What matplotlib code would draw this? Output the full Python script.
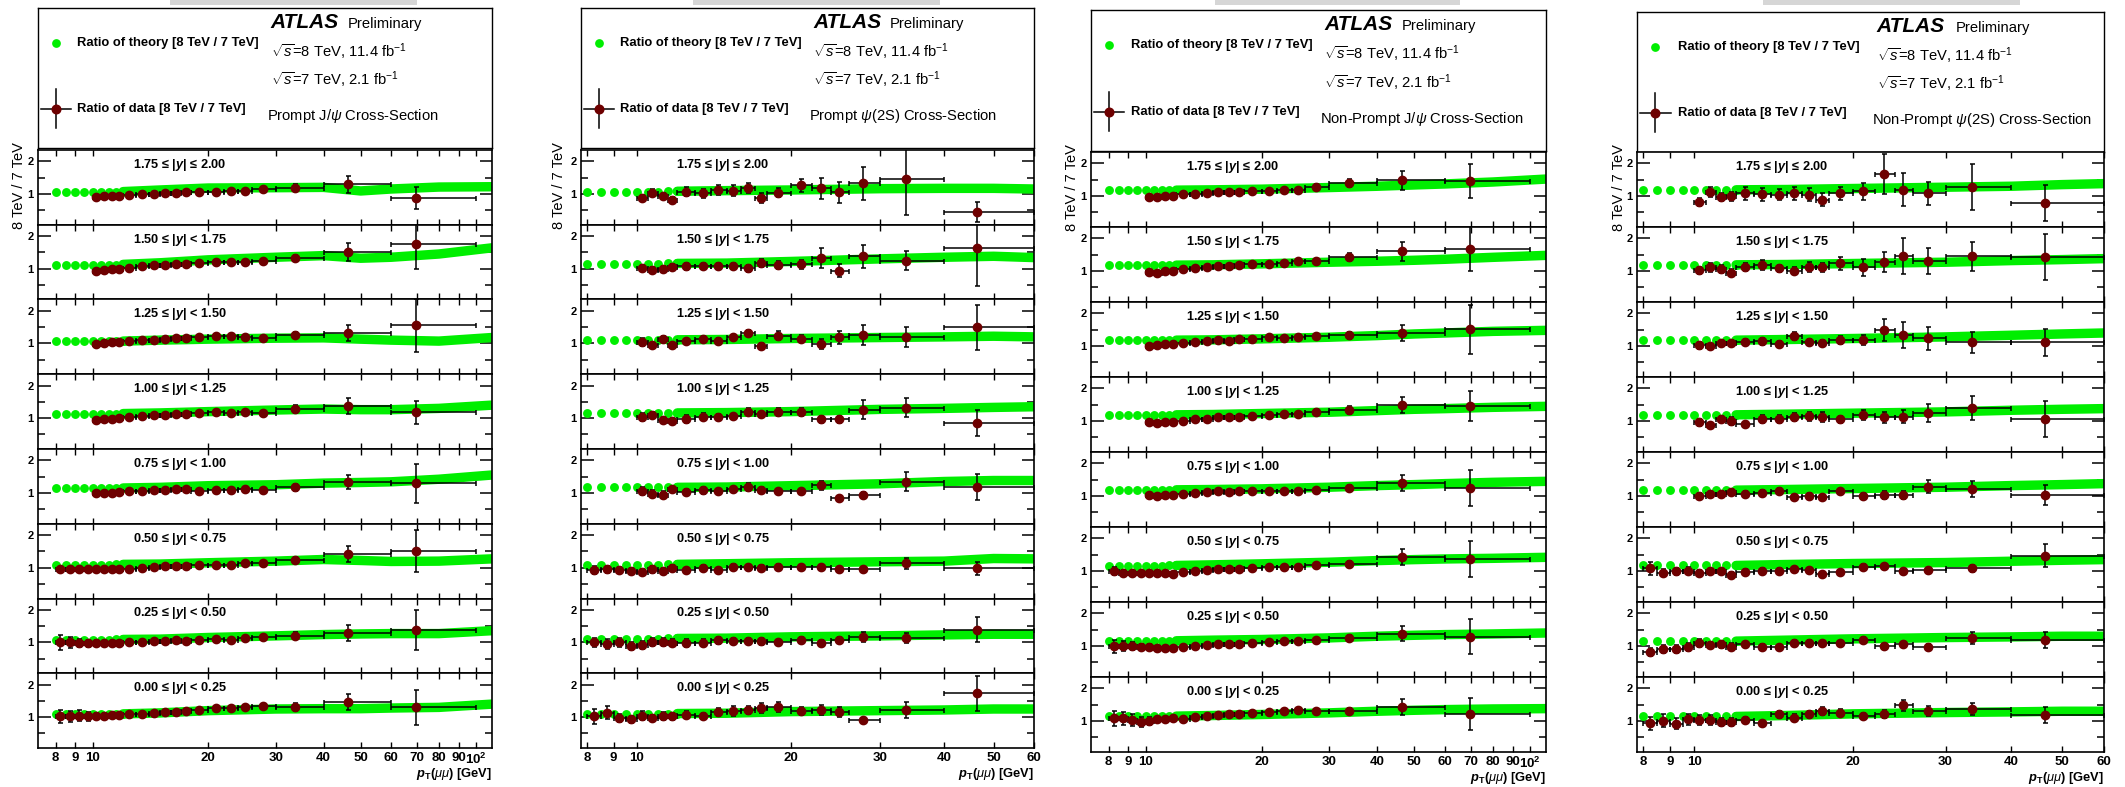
import matplotlib.pyplot as plt
from matplotlib.patches import Rectangle
from matplotlib.ticker import FixedLocator, NullLocator

plt.rcParams['font.family'] = 'Liberation Sans'
plt.rcParams['mathtext.fontset'] = 'custom'
plt.rcParams['mathtext.rm'] = 'Liberation Sans'
plt.rcParams['mathtext.it'] = 'Liberation Sans:italic'
plt.rcParams['mathtext.bf'] = 'Liberation Sans:bold'
plt.rcParams['mathtext.bfit'] = 'Liberation Sans:bold:italic'

W, H = 2125, 787

# pT bins (GeV) and mean pT of each bin
PT_LO = [8, 8.5, 9, 9.5, 10, 10.5, 11, 11.5, 12, 13, 14, 15, 16, 17, 18, 20, 22, 24, 26, 30, 40, 60]
PT_HI = [8.5, 9, 9.5, 10, 10.5, 11, 11.5, 12, 13, 14, 15, 16, 17, 18, 20, 22, 24, 26, 30, 40, 60, 100]
PT_MEAN = [8.24, 8.73, 9.23, 9.72, 10.22, 10.72, 11.23, 11.74, 12.46, 13.46, 14.45, 15.45, 16.48,
           17.47, 18.9, 20.93, 22.93, 24.93, 27.75, 33.7, 46.3, 69.9]

Y_BINS = ['1.75 \u2264 |$\\mathbfit{y}$| \u2264 2.00', '1.50 \u2264 |$\\mathbfit{y}$| < 1.75',
          '1.25 \u2264 |$\\mathbfit{y}$| < 1.50', '1.00 \u2264 |$\\mathbfit{y}$| < 1.25',
          '0.75 \u2264 |$\\mathbfit{y}$| < 1.00', '0.50 \u2264 |$\\mathbfit{y}$| < 0.75',
          '0.25 \u2264 |$\\mathbfit{y}$| < 0.50', '0.00 \u2264 |$\\mathbfit{y}$| < 0.25']

# theory grid points
TH_PT_LONG = [8, 8.5, 9, 9.5, 10, 10.5, 11, 11.5, 12, 15, 20, 30, 40, 50, 60, 80, 110]
TH_PT_SHORT = [8, 8.5, 9, 9.5, 10, 10.5, 11, 11.5, 12, 15, 20, 30, 40, 50, 60]

# ---- Prompt J/psi ----
PJ_RATIO = [
    [0.89, 0.92, 0.92, 0.93, 0.96, 0.99, 1.01, 1.02, 1.04, 1.05, 1.07, 1.07, 1.10, 1.10, 1.14, 1.19, 1.29, 0.87],
    [0.93, 0.96, 0.98, 0.99, 1.02, 1.07, 1.10, 1.12, 1.14, 1.15, 1.18, 1.19, 1.21, 1.21, 1.25, 1.32, 1.51, 1.75],
    [0.98, 1.02, 1.04, 1.04, 1.06, 1.09, 1.11, 1.14, 1.17, 1.18, 1.19, 1.23, 1.23, 1.21, 1.18, 1.26, 1.31, 1.55],
    [0.93, 0.96, 0.96, 1.00, 1.02, 1.06, 1.10, 1.11, 1.13, 1.14, 1.17, 1.18, 1.17, 1.19, 1.17, 1.27, 1.37, 1.18],
    [1.00, 1.00, 1.01, 1.02, 1.05, 1.06, 1.08, 1.10, 1.13, 1.11, 1.07, 1.08, 1.10, 1.13, 1.10, 1.17, 1.33, 1.30],
    [0.96, 0.96, 0.95, 0.95, 0.95, 0.95, 0.95, 0.95, 0.95, 1.00, 1.02, 1.04, 1.06, 1.05, 1.08, 1.08, 1.08, 1.13,
     1.13, 1.24, 1.43, 1.52],
    [1.00, 1.00, 0.99, 0.97, 0.98, 0.99, 0.99, 0.99, 1.00, 1.00, 1.04, 1.04, 1.08, 1.04, 1.07, 1.11, 1.08, 1.12,
     1.18, 1.21, 1.29, 1.39],
    [1.02, 1.02, 1.05, 1.02, 1.03, 1.05, 1.06, 1.06, 1.09, 1.09, 1.13, 1.16, 1.16, 1.19, 1.22, 1.27, 1.29, 1.30,
     1.33, 1.31, 1.46, 1.30],
]
PJ_ERR = [
    [0.03, 0.03, 0.03, 0.03, 0.03, 0.03, 0.03, 0.03, 0.03, 0.03, 0.04, 0.04, 0.04, 0.04, 0.06, 0.10, 0.25, 0.35],
    [0.03, 0.03, 0.03, 0.03, 0.03, 0.03, 0.03, 0.03, 0.03, 0.04, 0.04, 0.04, 0.05, 0.05, 0.06, 0.09, 0.28, 0.75],
    [0.03, 0.03, 0.03, 0.03, 0.03, 0.03, 0.03, 0.03, 0.04, 0.04, 0.04, 0.04, 0.05, 0.05, 0.05, 0.10, 0.25, 0.80],
    [0.03, 0.03, 0.03, 0.03, 0.03, 0.03, 0.03, 0.03, 0.04, 0.04, 0.04, 0.04, 0.05, 0.05, 0.05, 0.12, 0.25, 0.35],
    [0.03, 0.03, 0.03, 0.03, 0.03, 0.03, 0.03, 0.03, 0.04, 0.04, 0.04, 0.04, 0.05, 0.05, 0.05, 0.10, 0.22, 0.60],
    [0.06, 0.05, 0.05, 0.05, 0.04, 0.04, 0.04, 0.04, 0.03, 0.03, 0.03, 0.03, 0.04, 0.04, 0.04, 0.04, 0.04, 0.05,
     0.05, 0.10, 0.25, 0.65],
    [0.22, 0.17, 0.12, 0.10, 0.08, 0.06, 0.05, 0.05, 0.04, 0.04, 0.04, 0.04, 0.04, 0.04, 0.04, 0.04, 0.04, 0.05,
     0.06, 0.10, 0.25, 0.62],
    [0.20, 0.18, 0.16, 0.15, 0.10, 0.08, 0.06, 0.06, 0.05, 0.05, 0.05, 0.05, 0.05, 0.05, 0.05, 0.05, 0.05, 0.05,
     0.06, 0.12, 0.25, 0.55],
]
PJ_THEORY = [
    [1.05, 1.05, 1.05, 1.05, 1.05, 1.05, 1.05, 1.06, 1.07, 1.12, 1.18, 1.19, 1.20, 1.09, 1.15, 1.21, 1.22],
    [1.11, 1.11, 1.11, 1.11, 1.11, 1.11, 1.12, 1.12, 1.13, 1.18, 1.27, 1.35, 1.40, 1.32, 1.35, 1.45, 1.64],
    [1.06, 1.06, 1.06, 1.06, 1.06, 1.06, 1.06, 1.07, 1.07, 1.10, 1.13, 1.16, 1.17, 1.13, 1.10, 1.07, 1.18],
    [1.13, 1.13, 1.13, 1.13, 1.13, 1.13, 1.13, 1.14, 1.14, 1.16, 1.20, 1.25, 1.28, 1.26, 1.26, 1.30, 1.40],
    [1.15, 1.15, 1.15, 1.15, 1.15, 1.15, 1.15, 1.15, 1.15, 1.17, 1.22, 1.25, 1.30, 1.32, 1.34, 1.42, 1.55],
    [1.09, 1.09, 1.09, 1.09, 1.09, 1.09, 1.09, 1.10, 1.10, 1.11, 1.15, 1.20, 1.25, 1.22, 1.19, 1.20, 1.27],
    [1.08, 1.08, 1.08, 1.08, 1.08, 1.08, 1.08, 1.09, 1.09, 1.10, 1.15, 1.20, 1.24, 1.26, 1.27, 1.27, 1.36],
    [1.10, 1.10, 1.10, 1.10, 1.10, 1.10, 1.10, 1.10, 1.10, 1.13, 1.20, 1.25, 1.26, 1.26, 1.28, 1.30, 1.40],
]

# ---- Prompt psi(2S) ----
PP_RATIO = [
    [0.87, 1.04, 0.94, 0.82, 1.07, 1.02, 1.13, 1.10, 1.17, 0.87, 1.04, 1.26, 1.17, 1.05, 1.32, 1.45, 0.45],
    [1.02, 0.96, 0.99, 1.05, 1.07, 1.08, 1.08, 1.08, 1.01, 1.18, 1.11, 1.13, 1.32, 0.94, 1.38, 1.25, 1.65],
    [1.04, 0.95, 1.13, 0.94, 1.07, 1.13, 1.07, 1.19, 1.32, 0.93, 1.24, 1.15, 0.99, 1.19, 1.25, 1.20, 1.49],
    [1.04, 1.10, 0.95, 0.92, 0.98, 1.05, 1.04, 1.06, 1.20, 1.12, 1.19, 1.19, 0.96, 0.96, 1.26, 1.32, 0.86],
    [1.07, 0.98, 0.95, 1.11, 1.04, 1.08, 1.05, 1.11, 1.18, 1.10, 1.05, 1.05, 1.23, 0.83, 0.95, 1.35, 1.18],
    [0.92, 0.95, 0.92, 0.90, 0.88, 0.95, 0.89, 0.99, 0.92, 1.00, 0.92, 1.02, 1.01, 1.00, 1.02, 1.01, 1.01, 0.95,
     0.95, 1.13, 0.98],
    [1.00, 0.94, 1.00, 0.89, 0.92, 1.02, 1.01, 0.99, 0.98, 0.99, 1.06, 1.05, 1.04, 1.03, 1.00, 1.08, 0.98, 1.08,
     1.16, 1.13, 1.39],
    [1.02, 1.13, 0.98, 0.93, 1.05, 0.98, 1.03, 1.02, 1.08, 1.03, 1.16, 1.19, 1.21, 1.28, 1.31, 1.18, 1.22, 1.16,
     0.90, 1.22, 1.73],
]
PP_ERR = [
    [0.10, 0.12, 0.10, 0.08, 0.13, 0.14, 0.15, 0.17, 0.15, 0.15, 0.15, 0.20, 0.32, 0.33, 0.50, 1.10, 0.30],
    [0.10, 0.08, 0.10, 0.08, 0.10, 0.10, 0.10, 0.10, 0.10, 0.12, 0.13, 0.15, 0.30, 0.20, 0.35, 0.30, 1.20],
    [0.12, 0.06, 0.10, 0.06, 0.06, 0.10, 0.10, 0.08, 0.08, 0.08, 0.15, 0.10, 0.15, 0.20, 0.30, 0.30, 0.70],
    [0.12, 0.10, 0.10, 0.08, 0.12, 0.12, 0.10, 0.08, 0.10, 0.08, 0.12, 0.12, 0.12, 0.12, 0.30, 0.30, 0.40],
    [0.12, 0.10, 0.10, 0.08, 0.08, 0.10, 0.08, 0.08, 0.12, 0.08, 0.08, 0.08, 0.15, 0.06, 0.08, 0.30, 0.40],
    [0.12, 0.10, 0.10, 0.10, 0.08, 0.10, 0.10, 0.08, 0.08, 0.08, 0.08, 0.08, 0.08, 0.08, 0.08, 0.08, 0.08, 0.08,
     0.08, 0.18, 0.20],
    [0.15, 0.15, 0.15, 0.12, 0.12, 0.12, 0.12, 0.10, 0.12, 0.10, 0.10, 0.10, 0.10, 0.10, 0.08, 0.10, 0.08, 0.10,
     0.15, 0.15, 0.38],
    [0.22, 0.20, 0.12, 0.12, 0.15, 0.10, 0.12, 0.10, 0.10, 0.10, 0.12, 0.15, 0.12, 0.15, 0.15, 0.12, 0.15, 0.15,
     0.05, 0.25, 0.55],
]
PP_THEORY = [
    [1.07, 1.07, 1.07, 1.07, 1.07, 1.07, 1.07, 1.08, 1.08, 1.10, 1.12, 1.16, 1.17, 1.17, 1.15],
    [1.15, 1.15, 1.15, 1.15, 1.15, 1.15, 1.15, 1.16, 1.16, 1.17, 1.22, 1.30, 1.35, 1.38, 1.34],
    [1.10, 1.10, 1.10, 1.10, 1.10, 1.10, 1.10, 1.11, 1.11, 1.12, 1.15, 1.18, 1.20, 1.22, 1.20],
    [1.15, 1.15, 1.15, 1.15, 1.15, 1.15, 1.15, 1.16, 1.16, 1.17, 1.20, 1.27, 1.30, 1.33, 1.35],
    [1.17, 1.17, 1.17, 1.17, 1.17, 1.17, 1.17, 1.17, 1.17, 1.18, 1.22, 1.28, 1.35, 1.38, 1.38],
    [1.09, 1.09, 1.09, 1.09, 1.09, 1.09, 1.09, 1.10, 1.10, 1.12, 1.15, 1.18, 1.20, 1.28, 1.27],
    [1.11, 1.11, 1.11, 1.11, 1.11, 1.11, 1.11, 1.12, 1.12, 1.13, 1.17, 1.20, 1.23, 1.25, 1.25],
    [1.10, 1.10, 1.10, 1.10, 1.10, 1.10, 1.10, 1.11, 1.11, 1.12, 1.17, 1.20, 1.22, 1.25, 1.25],
]

# ---- Non-prompt J/psi ----
NJ_RATIO = [
    [0.96, 0.96, 1.00, 1.00, 1.05, 1.06, 1.10, 1.11, 1.12, 1.13, 1.16, 1.16, 1.20, 1.19, 1.28, 1.39, 1.48, 1.46],
    [0.96, 0.95, 1.00, 1.01, 1.06, 1.08, 1.12, 1.14, 1.16, 1.20, 1.22, 1.23, 1.25, 1.30, 1.30, 1.42, 1.60, 1.69],
    [1.00, 1.02, 1.05, 1.06, 1.08, 1.12, 1.16, 1.17, 1.14, 1.22, 1.23, 1.28, 1.24, 1.28, 1.30, 1.33, 1.39, 1.52],
    [0.96, 0.95, 0.96, 0.98, 1.00, 1.05, 1.07, 1.11, 1.12, 1.12, 1.14, 1.19, 1.22, 1.23, 1.28, 1.33, 1.49, 1.46],
    [1.04, 1.01, 1.04, 1.04, 1.05, 1.08, 1.11, 1.14, 1.13, 1.14, 1.14, 1.14, 1.14, 1.14, 1.19, 1.24, 1.39, 1.24],
    [1.00, 0.95, 0.94, 0.94, 0.93, 0.93, 0.93, 0.92, 0.96, 1.00, 1.04, 1.05, 1.06, 1.07, 1.08, 1.11, 1.12, 1.13,
     1.19, 1.22, 1.43, 1.36],
    [1.00, 1.00, 1.00, 0.97, 0.97, 0.95, 0.95, 0.95, 0.98, 1.00, 1.03, 1.05, 1.07, 1.07, 1.09, 1.13, 1.14, 1.16,
     1.17, 1.24, 1.38, 1.29],
    [1.08, 1.08, 1.03, 0.98, 1.00, 1.05, 1.07, 1.09, 1.07, 1.11, 1.16, 1.18, 1.23, 1.21, 1.26, 1.28, 1.31, 1.34,
     1.31, 1.31, 1.43, 1.21],
]
NJ_ERR = [
    [0.03, 0.03, 0.03, 0.03, 0.03, 0.03, 0.03, 0.03, 0.03, 0.03, 0.03, 0.04, 0.04, 0.05, 0.08, 0.12, 0.30, 0.52],
    [0.03, 0.03, 0.03, 0.03, 0.03, 0.03, 0.03, 0.03, 0.03, 0.03, 0.04, 0.04, 0.04, 0.05, 0.05, 0.12, 0.30, 0.70],
    [0.03, 0.03, 0.03, 0.03, 0.03, 0.03, 0.03, 0.03, 0.03, 0.03, 0.04, 0.04, 0.04, 0.05, 0.06, 0.10, 0.25, 0.75],
    [0.03, 0.03, 0.03, 0.03, 0.03, 0.03, 0.03, 0.03, 0.03, 0.03, 0.04, 0.04, 0.04, 0.05, 0.08, 0.12, 0.25, 0.45],
    [0.03, 0.03, 0.03, 0.03, 0.03, 0.03, 0.03, 0.03, 0.03, 0.03, 0.04, 0.04, 0.04, 0.05, 0.06, 0.10, 0.25, 0.55],
    [0.12, 0.08, 0.06, 0.05, 0.04, 0.04, 0.04, 0.04, 0.03, 0.03, 0.03, 0.03, 0.03, 0.04, 0.04, 0.04, 0.04, 0.04,
     0.05, 0.10, 0.25, 0.55],
    [0.20, 0.15, 0.12, 0.10, 0.08, 0.06, 0.05, 0.05, 0.04, 0.04, 0.04, 0.04, 0.04, 0.04, 0.04, 0.04, 0.04, 0.04,
     0.05, 0.10, 0.22, 0.53],
    [0.22, 0.20, 0.17, 0.15, 0.12, 0.08, 0.06, 0.05, 0.04, 0.04, 0.04, 0.04, 0.04, 0.04, 0.04, 0.04, 0.04, 0.04,
     0.05, 0.10, 0.25, 0.50],
]
NJ_THEORY = [
    [1.17, 1.17, 1.17, 1.17, 1.17, 1.17, 1.17, 1.18, 1.18, 1.19, 1.21, 1.26, 1.30, 1.34, 1.37, 1.43, 1.52],
    [1.17, 1.17, 1.17, 1.17, 1.17, 1.17, 1.17, 1.18, 1.18, 1.19, 1.22, 1.27, 1.30, 1.33, 1.36, 1.42, 1.48],
    [1.17, 1.17, 1.17, 1.17, 1.17, 1.17, 1.17, 1.18, 1.18, 1.19, 1.22, 1.27, 1.32, 1.37, 1.40, 1.45, 1.48],
    [1.18, 1.18, 1.18, 1.18, 1.18, 1.18, 1.18, 1.19, 1.19, 1.20, 1.23, 1.27, 1.32, 1.36, 1.38, 1.42, 1.45],
    [1.18, 1.18, 1.18, 1.18, 1.18, 1.18, 1.18, 1.19, 1.19, 1.20, 1.22, 1.27, 1.32, 1.35, 1.38, 1.42, 1.45],
    [1.16, 1.16, 1.16, 1.16, 1.16, 1.16, 1.16, 1.17, 1.17, 1.19, 1.22, 1.27, 1.32, 1.35, 1.37, 1.39, 1.42],
    [1.15, 1.15, 1.15, 1.15, 1.15, 1.15, 1.15, 1.16, 1.16, 1.18, 1.20, 1.25, 1.30, 1.33, 1.35, 1.37, 1.40],
    [1.14, 1.14, 1.14, 1.14, 1.14, 1.14, 1.14, 1.15, 1.15, 1.17, 1.20, 1.25, 1.30, 1.33, 1.35, 1.37, 1.38],
]

# ---- Non-prompt psi(2S) ----
NP_RATIO = [
    [0.82, 1.12, 0.98, 0.99, 1.08, 1.06, 1.04, 1.09, 1.04, 0.88, 1.08, 1.14, 1.68, 1.20, 1.08, 1.27, 0.79],
    [1.02, 1.11, 1.05, 0.95, 1.13, 1.19, 1.08, 1.01, 1.13, 1.11, 1.24, 1.11, 1.27, 1.47, 1.32, 1.45, 1.44],
    [1.02, 0.99, 1.09, 1.09, 1.12, 1.14, 1.07, 1.31, 1.13, 1.09, 1.19, 1.19, 1.49, 1.35, 1.24, 1.11, 1.11],
    [0.96, 0.87, 1.06, 1.01, 0.91, 1.07, 1.05, 1.13, 1.14, 1.13, 1.05, 1.18, 1.11, 1.13, 1.24, 1.39, 1.05],
    [1.00, 1.05, 1.07, 1.13, 1.06, 1.09, 1.16, 0.98, 1.01, 0.96, 1.14, 1.00, 1.04, 1.04, 1.28, 1.22, 1.04],
    [1.08, 0.95, 0.99, 1.01, 0.94, 0.99, 0.99, 0.88, 0.98, 1.00, 1.01, 1.05, 1.02, 0.91, 0.96, 1.12, 1.15, 0.99,
     1.02, 1.08, 1.47],
    [0.82, 0.90, 0.92, 0.97, 1.09, 1.03, 1.05, 0.98, 1.05, 0.98, 0.96, 1.09, 1.10, 1.08, 1.08, 1.18, 1.00, 1.05,
     0.98, 1.24, 1.18],
    [0.93, 1.01, 0.91, 1.06, 1.03, 1.03, 0.98, 0.96, 1.03, 0.93, 1.20, 1.10, 1.20, 1.31, 1.26, 1.15, 1.22, 1.48,
     1.31, 1.37, 1.18],
]
NP_ERR = [
    [0.12, 0.15, 0.12, 0.13, 0.20, 0.20, 0.17, 0.20, 0.20, 0.20, 0.20, 0.25, 0.62, 0.50, 0.35, 0.70, 0.55],
    [0.10, 0.15, 0.12, 0.10, 0.12, 0.15, 0.12, 0.10, 0.15, 0.15, 0.20, 0.25, 0.30, 0.55, 0.40, 0.45, 0.70],
    [0.10, 0.08, 0.08, 0.08, 0.10, 0.10, 0.08, 0.12, 0.10, 0.10, 0.12, 0.15, 0.35, 0.40, 0.35, 0.33, 0.42],
    [0.10, 0.07, 0.10, 0.12, 0.07, 0.12, 0.12, 0.13, 0.13, 0.15, 0.10, 0.15, 0.18, 0.20, 0.28, 0.37, 0.55],
    [0.08, 0.08, 0.08, 0.08, 0.08, 0.08, 0.08, 0.06, 0.08, 0.06, 0.08, 0.08, 0.12, 0.12, 0.20, 0.25, 0.30],
    [0.20, 0.10, 0.10, 0.10, 0.10, 0.08, 0.08, 0.08, 0.08, 0.08, 0.08, 0.06, 0.06, 0.06, 0.06, 0.08, 0.08, 0.08,
     0.08, 0.10, 0.35],
    [0.12, 0.12, 0.12, 0.12, 0.12, 0.10, 0.10, 0.10, 0.08, 0.08, 0.07, 0.08, 0.08, 0.08, 0.08, 0.10, 0.07, 0.07,
     0.07, 0.18, 0.25],
    [0.20, 0.20, 0.17, 0.17, 0.15, 0.15, 0.12, 0.12, 0.10, 0.07, 0.10, 0.10, 0.12, 0.12, 0.12, 0.10, 0.12, 0.17,
     0.15, 0.18, 0.25],
]
NP_THEORY = [
    [1.19, 1.19, 1.19, 1.19, 1.19, 1.19, 1.19, 1.19, 1.19, 1.20, 1.23, 1.27, 1.30, 1.35, 1.38],
    [1.19, 1.19, 1.19, 1.19, 1.19, 1.19, 1.19, 1.19, 1.19, 1.20, 1.23, 1.27, 1.32, 1.35, 1.38],
    [1.18, 1.18, 1.18, 1.18, 1.18, 1.18, 1.18, 1.18, 1.18, 1.20, 1.23, 1.28, 1.33, 1.37, 1.40],
    [1.19, 1.19, 1.19, 1.19, 1.19, 1.19, 1.19, 1.19, 1.19, 1.21, 1.24, 1.28, 1.33, 1.36, 1.38],
    [1.18, 1.18, 1.18, 1.18, 1.18, 1.18, 1.18, 1.18, 1.18, 1.20, 1.23, 1.27, 1.32, 1.35, 1.38],
    [1.17, 1.17, 1.17, 1.17, 1.17, 1.17, 1.17, 1.17, 1.17, 1.20, 1.23, 1.26, 1.30, 1.33, 1.35],
    [1.15, 1.15, 1.15, 1.15, 1.15, 1.15, 1.15, 1.15, 1.15, 1.18, 1.22, 1.26, 1.28, 1.30, 1.30],
    [1.14, 1.14, 1.14, 1.14, 1.14, 1.14, 1.14, 1.14, 1.14, 1.17, 1.22, 1.26, 1.28, 1.30, 1.30],
]

TICKS_LONG = [8, 9, 10, 20, 30, 40, 50, 60, 70, 80, 90, 100]
TICKLABELS_LONG = ['8', '9', '10', '20', '30', '40', '50', '60', '70', '80', '90', r'$\mathbf{10^{2}}$']
TICKS_SHORT = [8, 9, 10, 20, 30, 40, 50, 60]
TICKLABELS_SHORT = ['8', '9', '10', '20', '30', '40', '50', '60']

GREEN = '#00ee00'
DATA_RED = '#6e0000'


def frac(x0, y0, x1, y1):
    return [x0 / W, 1 - y1 / H, (x1 - x0) / W, (y1 - y0) / H]


def draw_box(fig, x0, y0, x1, y1, title):
    ax = fig.add_axes(frac(x0, y0, x1, y1))
    ax.set_xlim(0, 1)
    ax.set_ylim(0, 1)
    ax.set_xticks([])
    ax.set_yticks([])
    for s in ax.spines.values():
        s.set_linewidth(1.0)
    ax.plot([0.039], [0.752], 'o', color=GREEN, ms=6.3, mew=0)
    ax.text(0.087, 0.752, 'Ratio of theory [8 TeV / 7 TeV]', fontsize=9.4, fontweight='bold', va='center')
    ax.plot([0.039, 0.039], [0.143, 0.421], color='black', lw=1.1)
    ax.plot([0.006, 0.073], [0.279, 0.279], color='black', lw=1.1)
    ax.plot([0.039], [0.279], 'o', color=DATA_RED, ms=6.2)
    ax.text(0.087, 0.279, 'Ratio of data [8 TeV / 7 TeV]', fontsize=9.4, fontweight='bold', va='center')
    ax.text(0.513, 0.895, 'ATLAS', fontsize=15, fontweight='bold', style='italic', va='center')
    ax.text(0.682, 0.885, 'Preliminary', fontsize=10.6, va='center')
    ax.text(0.513, 0.686, r'$\sqrt{s}$=8 TeV, 11.4 fb$^{-1}$', fontsize=10.6, va='center')
    ax.text(0.513, 0.486, r'$\sqrt{s}$=7 TeV, 2.1 fb$^{-1}$', fontsize=10.6, va='center')
    ax.text(0.504, 0.229, title, fontsize=10.6, va='center')


def draw_column(fig, x0, x1, box_top, box_bot, pan_top, pan_bot, ylab_x, shade, title,
                ratio, err, theory, th_pt, xlim, ticks, ticklabels):
    draw_box(fig, x0, box_top, x1, box_bot, title)
    fig.patches.append(Rectangle((shade[0] / W, 1 - 5 / H), (shade[1] - shade[0]) / W, 5 / H,
                                 transform=fig.transFigure, color='#d6d6d6', lw=0))
    fig.text(ylab_x / W, 1 - (pan_top + 36) / H, '8 TeV / 7 TeV', rotation=90, fontsize=10.5,
             ha='center', va='center')
    h = (pan_bot - pan_top) / 8
    n_bins = len(PT_MEAN) if len(th_pt) == len(TH_PT_LONG) else len(PT_MEAN) - 1
    for i in range(8):
        top = pan_top + i * h
        ax = fig.add_axes(frac(x0, top, x1, top + h))
        ax.set_xscale('log')
        ax.set_xlim(*xlim)
        ax.set_ylim(0.05, 2.35)
        for s in ax.spines.values():
            s.set_linewidth(1.2)

        # theory: separate dots at low pT, then a thick band
        ax.plot(th_pt[:9], theory[i][:9], 'o', color=GREEN, ms=6.4, mew=0, zorder=2)
        ax.plot(th_pt[8:], theory[i][8:], '-', color=GREEN, lw=6.8, solid_capstyle='round',
                solid_joinstyle='round', zorder=2)

        vals = ratio[i]
        start = n_bins - len(vals)
        xs = PT_MEAN[start:n_bins]
        lo = PT_LO[start:n_bins]
        hi = PT_HI[start:n_bins]
        xerr = [[x - l for x, l in zip(xs, lo)], [u - x for x, u in zip(xs, hi)]]
        ax.errorbar(xs, vals, yerr=err[i], xerr=xerr, fmt='o', color=DATA_RED, mec=DATA_RED, ms=6.0,
                    ecolor='black', elinewidth=1.1, capsize=1.8, capthick=1.1, zorder=3)

        ax.text(0.209, 0.80, Y_BINS[i], transform=ax.transAxes, fontsize=9.2, fontweight='bold',
                va='center')

        ax.yaxis.set_major_locator(FixedLocator([1, 2]))
        ax.yaxis.set_minor_locator(FixedLocator([0.5, 1.5]))
        ax.set_yticklabels(['1', '2'], fontweight='bold', fontsize=8)
        ax.tick_params(axis='y', which='major', direction='in', length=9, width=1.1, right=True, pad=3)
        ax.tick_params(axis='y', which='minor', direction='in', length=5, width=1.1, right=True)
        ax.xaxis.set_major_locator(FixedLocator(ticks))
        ax.xaxis.set_minor_locator(NullLocator())
        ax.tick_params(axis='x', which='major', direction='in', length=4, width=1.0, top=True, pad=3)
        if i == 7:
            ax.set_xticklabels(ticklabels, fontweight='bold', fontsize=9.5)
        else:
            ax.set_xticklabels([])
    fig.text(x1 / W, 1 - (pan_bot + 26) / H, r'$\mathbfit{p}_{\mathbf{T}}$($\mu\mu$) [GeV]',
             fontweight='bold', fontsize=9.3, ha='right', va='center')


fig = plt.figure(figsize=(W / 100, H / 100), dpi=100)

draw_column(fig, 38, 492, 8, 148, 150, 748, 19, (170, 417), r'Prompt J/$\psi$ Cross-Section',
            PJ_RATIO, PJ_ERR, PJ_THEORY, TH_PT_LONG, (7.2, 110), TICKS_LONG, TICKLABELS_LONG)
draw_column(fig, 581, 1034, 8, 148, 150, 748, 559, (693, 940), r'Prompt $\psi$(2S) Cross-Section',
            PP_RATIO, PP_ERR, PP_THEORY, TH_PT_SHORT, (7.77, 60), TICKS_SHORT, TICKLABELS_SHORT)
draw_column(fig, 1091, 1546, 10, 151, 152, 752, 1072, (1215, 1460), r'Non-Prompt J/$\psi$ Cross-Section',
            NJ_RATIO, NJ_ERR, NJ_THEORY, TH_PT_LONG, (7.2, 110), TICKS_LONG, TICKLABELS_LONG)
draw_column(fig, 1637, 2104, 12, 152, 152, 752, 1619, (1763, 2020), r'Non-Prompt $\psi$(2S) Cross-Section',
            NP_RATIO, NP_ERR, NP_THEORY, TH_PT_SHORT, (7.78, 60), TICKS_SHORT, TICKLABELS_SHORT)

fig.savefig('out.png', dpi=100)
